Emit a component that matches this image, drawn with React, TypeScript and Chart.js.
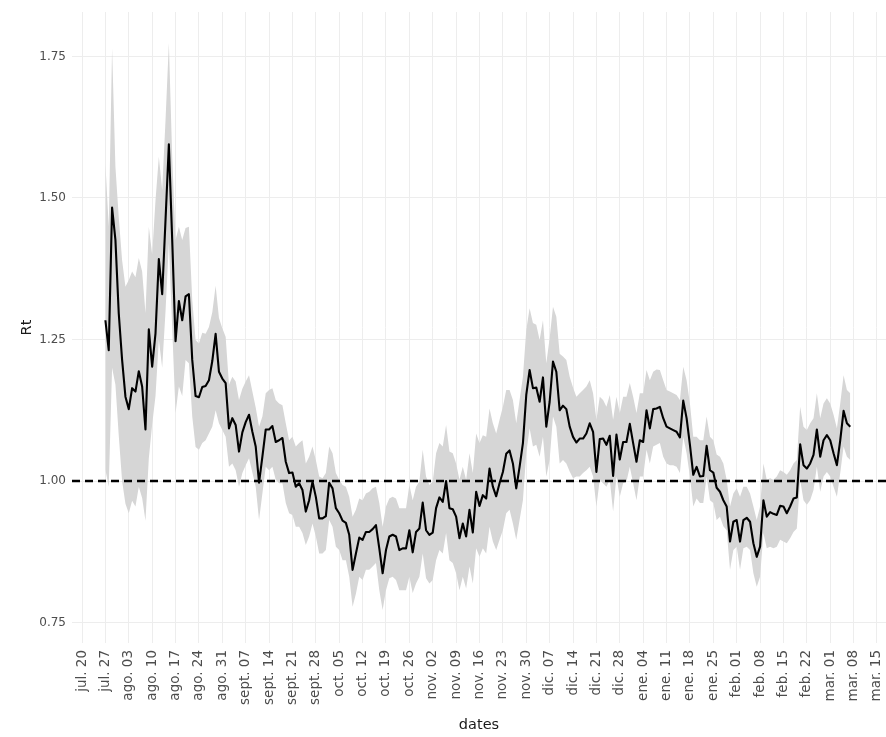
import React, { useEffect, useRef } from "react";
import { Chart, registerables } from "chart.js";

Chart.register(...registerables);

// x axis: days counted from 2020-07-20 (the first tick)
const FIRST_DAY = 7; // first estimate: 2020-07-27
const TICK_LABELS = [
  "jul. 20", "jul. 27", "ago. 03", "ago. 10", "ago. 17", "ago. 24", "ago. 31",
  "sept. 07", "sept. 14", "sept. 21", "sept. 28", "oct. 05", "oct. 12", "oct. 19",
  "oct. 26", "nov. 02", "nov. 09", "nov. 16", "nov. 23", "nov. 30", "dic. 07",
  "dic. 14", "dic. 21", "dic. 28", "ene. 04", "ene. 11", "ene. 18", "ene. 25",
  "feb. 01", "feb. 08", "feb. 15", "feb. 22", "mar. 01", "mar. 08", "mar. 15",
];
const TICK_STEP_DAYS = 7;
const X_MIN = -3;
const X_MAX = 240.7;

const Y_TICKS = [0.75, 1.0, 1.25, 1.5, 1.75];
const Y_MIN = 0.7138;
const Y_MAX = 1.8286;
const THRESHOLD = 1;

// daily Rt estimate, 2020-07-27 .. 2021-03-07
const RT_MEAN = [
  1.284, 1.231, 1.483, 1.426, 1.296, 1.214, 1.149, 1.127, 1.164, 1.158,
  1.194, 1.167, 1.091, 1.268, 1.202, 1.261, 1.392, 1.330, 1.461, 1.595,
  1.426, 1.247, 1.318, 1.284, 1.326, 1.330, 1.214, 1.150, 1.148, 1.166,
  1.168, 1.178, 1.212, 1.260, 1.193, 1.181, 1.173, 1.093, 1.111, 1.099,
  1.052, 1.086, 1.104, 1.117, 1.087, 1.061, 0.997, 1.043, 1.091, 1.091,
  1.097, 1.069, 1.072, 1.076, 1.034, 1.014, 1.015, 0.990, 0.996, 0.984,
  0.946, 0.966, 0.999, 0.972, 0.934, 0.934, 0.938, 0.997, 0.987, 0.952,
  0.943, 0.930, 0.926, 0.905, 0.843, 0.872, 0.900, 0.896, 0.910, 0.910,
  0.915, 0.922, 0.881, 0.837, 0.878, 0.902, 0.905, 0.902, 0.878, 0.881,
  0.881, 0.913, 0.874, 0.910, 0.916, 0.962, 0.913, 0.905, 0.909, 0.952,
  0.971, 0.963, 1.000, 0.952, 0.950, 0.937, 0.899, 0.925, 0.902, 0.949,
  0.909, 0.981, 0.956, 0.975, 0.969, 1.022, 0.990, 0.973, 0.996, 1.016,
  1.048, 1.054, 1.031, 0.987, 1.025, 1.067, 1.152, 1.196, 1.164, 1.165,
  1.140, 1.183, 1.096, 1.140, 1.211, 1.193, 1.125, 1.133, 1.127, 1.096,
  1.078, 1.068, 1.075, 1.075, 1.084, 1.102, 1.087, 1.016, 1.074, 1.075,
  1.064, 1.080, 1.009, 1.082, 1.038, 1.069, 1.069, 1.101, 1.067, 1.034,
  1.072, 1.069, 1.125, 1.093, 1.127, 1.128, 1.131, 1.111, 1.096, 1.093,
  1.090, 1.087, 1.077, 1.142, 1.111, 1.064, 1.011, 1.025, 1.008, 1.009,
  1.062, 1.019, 1.015, 0.988, 0.981, 0.966, 0.955, 0.893, 0.928, 0.931,
  0.893, 0.931, 0.935, 0.928, 0.890, 0.866, 0.884, 0.966, 0.937, 0.945,
  0.942, 0.940, 0.956, 0.955, 0.943, 0.955, 0.969, 0.971, 1.065, 1.028,
  1.022, 1.031, 1.046, 1.091, 1.043, 1.072, 1.081, 1.072, 1.049, 1.028,
  1.072, 1.124, 1.102, 1.096,
];

const RT_UPPER = [
  1.561, 1.450, 1.765, 1.555, 1.466, 1.390, 1.343, 1.355, 1.370, 1.360,
  1.394, 1.370, 1.297, 1.449, 1.400, 1.496, 1.573, 1.514, 1.638, 1.774,
  1.573, 1.426, 1.449, 1.426, 1.447, 1.449, 1.320, 1.249, 1.243, 1.262,
  1.260, 1.272, 1.298, 1.345, 1.288, 1.270, 1.255, 1.170, 1.184, 1.176,
  1.143, 1.163, 1.176, 1.187, 1.158, 1.130, 1.096, 1.114, 1.155, 1.161,
  1.164, 1.143, 1.137, 1.134, 1.102, 1.072, 1.078, 1.061, 1.067, 1.072,
  1.031, 1.043, 1.061, 1.037, 1.008, 1.005, 1.014, 1.061, 1.049, 1.014,
  1.002, 0.993, 0.990, 0.972, 0.937, 0.949, 0.969, 0.966, 0.978, 0.981,
  0.987, 0.990, 0.961, 0.919, 0.955, 0.969, 0.972, 0.969, 0.952, 0.952,
  0.952, 0.993, 0.966, 0.990, 0.999, 1.055, 1.008, 0.993, 0.999, 1.049,
  1.067, 1.061, 1.099, 1.052, 1.049, 1.031, 1.002, 1.025, 1.002, 1.049,
  1.014, 1.084, 1.067, 1.081, 1.078, 1.128, 1.102, 1.084, 1.108, 1.131,
  1.161, 1.161, 1.143, 1.102, 1.143, 1.184, 1.267, 1.305, 1.279, 1.276,
  1.249, 1.284, 1.208, 1.252, 1.308, 1.290, 1.225, 1.220, 1.214, 1.184,
  1.165, 1.149, 1.155, 1.161, 1.167, 1.178, 1.155, 1.108, 1.149, 1.143,
  1.131, 1.152, 1.108, 1.149, 1.120, 1.149, 1.149, 1.173, 1.149, 1.120,
  1.155, 1.155, 1.196, 1.178, 1.193, 1.197, 1.196, 1.178, 1.161, 1.158,
  1.155, 1.152, 1.143, 1.202, 1.178, 1.137, 1.078, 1.078, 1.072, 1.072,
  1.114, 1.078, 1.072, 1.047, 1.043, 1.031, 1.002, 0.955, 0.978, 0.987,
  0.972, 0.990, 0.990, 0.978, 0.955, 0.931, 0.955, 1.031, 1.002, 1.005,
  1.002, 1.008, 1.019, 1.016, 1.011, 1.019, 1.031, 1.037, 1.131, 1.096,
  1.090, 1.102, 1.111, 1.155, 1.111, 1.137, 1.146, 1.137, 1.117, 1.093,
  1.137, 1.187, 1.161, 1.155,
];

const RT_LOWER = [
  1.020, 0.990, 1.200, 1.170, 1.080, 1.000, 0.960, 0.943, 0.965, 0.955,
  0.990, 0.970, 0.930, 1.040, 1.100, 1.150, 1.250, 1.200, 1.300, 1.420,
  1.270, 1.120, 1.167, 1.150, 1.214, 1.208, 1.114, 1.060, 1.055, 1.067,
  1.072, 1.084, 1.096, 1.125, 1.102, 1.090, 1.078, 1.025, 1.031, 1.019,
  0.990, 1.014, 1.028, 1.040, 1.015, 0.990, 0.931, 0.978, 1.025, 1.019,
  1.025, 1.002, 0.996, 0.996, 0.961, 0.943, 0.940, 0.919, 0.919, 0.908,
  0.887, 0.902, 0.925, 0.902, 0.872, 0.872, 0.878, 0.931, 0.919, 0.884,
  0.878, 0.860, 0.860, 0.831, 0.778, 0.801, 0.831, 0.825, 0.843, 0.843,
  0.849, 0.855, 0.807, 0.772, 0.807, 0.828, 0.831, 0.825, 0.807, 0.807,
  0.807, 0.831, 0.802, 0.819, 0.831, 0.872, 0.828, 0.819, 0.825, 0.860,
  0.878, 0.872, 0.908, 0.860, 0.855, 0.837, 0.807, 0.831, 0.810, 0.849,
  0.819, 0.881, 0.866, 0.881, 0.872, 0.919, 0.893, 0.878, 0.896, 0.913,
  0.943, 0.949, 0.925, 0.896, 0.931, 0.966, 1.049, 1.093, 1.061, 1.064,
  1.043, 1.078, 1.008, 1.037, 1.114, 1.096, 1.031, 1.037, 1.031, 1.017,
  1.005, 1.008, 1.008, 1.014, 1.019, 1.025, 1.008, 0.955, 1.002, 0.996,
  0.990, 1.002, 0.946, 1.008, 0.972, 0.996, 0.999, 1.025, 0.996, 0.966,
  1.008, 1.008, 1.055, 1.031, 1.061, 1.064, 1.067, 1.043, 1.031, 1.028,
  1.028, 1.025, 1.014, 1.078, 1.049, 1.008, 0.955, 0.969, 0.961, 0.961,
  1.008, 0.966, 0.961, 0.931, 0.937, 0.920, 0.913, 0.843, 0.878, 0.884,
  0.843, 0.881, 0.884, 0.878, 0.837, 0.813, 0.831, 0.908, 0.881, 0.884,
  0.881, 0.884, 0.896, 0.893, 0.890, 0.899, 0.910, 0.916, 1.002, 0.966,
  0.958, 0.966, 0.984, 1.025, 0.981, 1.008, 1.016, 1.008, 0.990, 0.972,
  1.014, 1.061, 1.043, 1.037,
];

const FONT = "'DejaVu Sans', Verdana, sans-serif";
const TICK_COLOR = "#4D4D4D";
const GRID_COLOR = "#EDEDED";
const BAND_COLOR = "#D6D6D6";

const toPoints = (arr: number[]) => arr.map((y, i) => ({ x: FIRST_DAY + i, y }));

const thresholdLine = {
  id: "thresholdLine",
  afterDatasetsDraw(chart: any) {
    const { ctx, chartArea, scales } = chart;
    const y = scales.y.getPixelForValue(THRESHOLD);
    ctx.save();
    ctx.beginPath();
    ctx.setLineDash([8, 5]);
    ctx.lineWidth = 2.6;
    ctx.strokeStyle = "#000000";
    ctx.moveTo(chartArea.left, y);
    ctx.lineTo(chartArea.right, y);
    ctx.stroke();
    ctx.restore();
  },
};

export default function App() {
  const canvasRef = useRef<HTMLCanvasElement | null>(null);

  useEffect(() => {
    if (!canvasRef.current) return;
    const chart = new Chart(canvasRef.current, {
      type: "line",
      data: {
        datasets: [
          {
            label: "Rt",
            data: toPoints(RT_MEAN),
            borderColor: "#000000",
            borderWidth: 2.1,
            pointRadius: 0,
            tension: 0,
            fill: false,
            borderJoinStyle: "round",
          },
          {
            label: "upper",
            data: toPoints(RT_UPPER),
            borderWidth: 0,
            borderColor: "rgba(0,0,0,0)",
            backgroundColor: BAND_COLOR,
            pointRadius: 0,
            tension: 0,
            fill: "+1",
          },
          {
            label: "lower",
            data: toPoints(RT_LOWER),
            borderWidth: 0,
            borderColor: "rgba(0,0,0,0)",
            pointRadius: 0,
            tension: 0,
            fill: false,
          },
        ],
      },
      options: {
        animation: false,
        responsive: false,
        devicePixelRatio: 1,
        layout: { padding: { top: 12, right: 0, bottom: 0, left: 0 } },
        plugins: {
          legend: { display: false },
          tooltip: { enabled: false },
        },
        scales: {
          x: {
            type: "linear",
            min: X_MIN,
            max: X_MAX,
            bounds: "data",
            border: { display: false },
            grid: { color: GRID_COLOR, lineWidth: 1, drawTicks: false },
            afterBuildTicks: (scale: any) => {
              scale.ticks = TICK_LABELS.map((_, i) => ({ value: i * TICK_STEP_DAYS }));
            },
            afterFit: (scale: any) => {
              scale.height = 94;
              scale.paddingLeft = 0;
              scale.paddingRight = 0;
            },
            ticks: {
              autoSkip: false,
              maxRotation: 90,
              minRotation: 90,
              padding: 7,
              color: TICK_COLOR,
              font: { family: FONT, size: 13.5 },
              callback: (_v: any, i: number) => TICK_LABELS[i],
            },
            title: {
              display: true,
              text: "dates",
              color: "#1A1A1A",
              font: { family: FONT, size: 14.5 },
              padding: { top: 0, bottom: 3 },
            },
          },
          y: {
            type: "linear",
            min: Y_MIN,
            max: Y_MAX,
            bounds: "data",
            border: { display: false },
            grid: { color: GRID_COLOR, lineWidth: 1, drawTicks: false },
            afterBuildTicks: (scale: any) => {
              scale.ticks = Y_TICKS.map((v) => ({ value: v }));
            },
            afterFit: (scale: any) => {
              scale.width = 72;
              scale.paddingTop = 0;
              scale.paddingBottom = 0;
            },
            ticks: {
              padding: 6,
              color: TICK_COLOR,
              font: { family: FONT, size: 12 },
              callback: (v: any) => Number(v).toFixed(2),
            },
            title: {
              display: true,
              text: "Rt",
              color: "#1A1A1A",
              font: { family: FONT, size: 14.5 },
              padding: { top: 19, bottom: 0 },
            },
          },
        },
      },
      plugins: [thresholdLine],
    });
    return () => chart.destroy();
  }, []);

  return (
    <div style={{ position: "fixed", left: 0, top: 0, width: 886, height: 737, background: "#ffffff" }}>
      <canvas ref={canvasRef} width={886} height={737} style={{ display: "block", width: 886, height: 737 }} />
    </div>
  );
}
